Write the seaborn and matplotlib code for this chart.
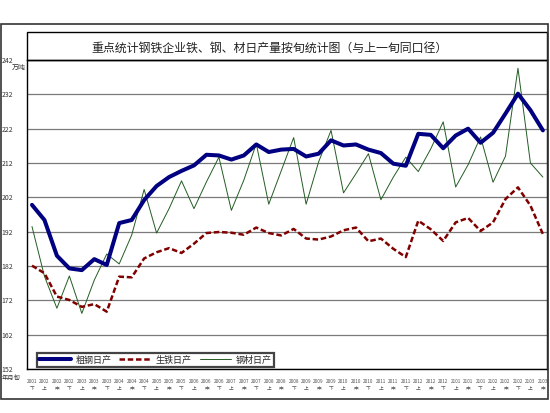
import numpy as np
import pandas as pd
import matplotlib
matplotlib.use("Agg")
import matplotlib.pyplot as plt
import seaborn as sns
from matplotlib.patches import Rectangle

sns.set_style("white")
plt.rcParams['font.family'] = ['Noto Sans CJK SC', 'DejaVu Sans']

# x axis labels: year-month code and ten-day period
periods = ['2001', '2002', '2002', '2002', '2003', '2003', '2003', '2004', '2004', '2004',
           '2005', '2005', '2005', '2006', '2006', '2006', '2007', '2007', '2007', '2008',
           '2008', '2008', '2009', '2009', '2009', '2010', '2010', '2010', '2011', '2011',
           '2011', '2012', '2012', '2012', '2101', '2101', '2101', '2102', '2102', '2102',
           '2103', '2103']
xun = ['下', '上', '中', '下', '上', '中', '下', '上', '中', '下',
       '上', '中', '下', '上', '中', '下', '上', '中', '下', '上',
       '中', '下', '上', '中', '下', '上', '中', '下', '上', '中',
       '下', '上', '中', '下', '上', '中', '下', '上', '中', '下',
       '上', '中']

# daily output, 10k tonnes
crude_steel = [199.8, 195.4, 185.0, 181.3, 180.8, 184.0, 182.3, 194.5, 195.4, 201.2,
               205.3, 207.9, 209.7, 211.3, 214.4, 214.2, 213.0, 214.2, 217.4, 215.2,
               215.9, 216.1, 213.9, 214.7, 218.6, 217.1, 217.4, 215.9, 214.9, 211.8,
               211.2, 220.5, 220.2, 216.3, 220.0, 222.0, 217.9, 220.8, 226.4, 232.2,
               227.4, 221.5]
pig_iron = [182.1, 179.9, 173.1, 172.1, 170.1, 170.9, 168.7, 178.9, 178.7, 184.2,
            186.0, 187.2, 185.8, 188.5, 191.6, 191.9, 191.7, 191.1, 193.2, 191.6,
            190.9, 192.8, 190.0, 189.7, 190.6, 192.4, 193.2, 189.2, 190.0, 187.0,
            184.6, 195.2, 192.7, 189.3, 194.7, 196.0, 192.2, 194.7, 201.5, 204.9,
            199.6, 191.3]
steel_products = [193.5, 179.0, 169.7, 179.1, 168.2, 177.9, 185.5, 182.6, 191.0, 204.3,
                  191.6, 198.7, 206.8, 198.7, 206.5, 213.7, 198.2, 207.0, 217.6, 200.0,
                  209.7, 219.4, 200.0, 212.3, 221.5, 203.3, 208.9, 214.7, 201.3, 207.9,
                  213.7, 209.5, 216.1, 224.0, 205.0, 211.5, 219.6, 206.4, 214.0, 239.6,
                  212.0, 207.9]

df = pd.DataFrame({'idx': np.arange(len(periods)),
                   '粗钢日产': crude_steel,
                   '生铁日产': pig_iron,
                   '钢材日产': steel_products})

W, H = 550, 413
fig = plt.figure(figsize=(5.5, 4.13), dpi=100)
ax = fig.add_axes([27 / W, 44 / H, 520 / W, 309 / H])

sns.lineplot(data=df, x='idx', y='钢材日产', color='#235c23', lw=0.7, ax=ax)
sns.lineplot(data=df, x='idx', y='生铁日产', color='#800000', lw=1.8,
             linestyle=(0, (2.2, 1.1)), ax=ax)
sns.lineplot(data=df, x='idx', y='粗钢日产', color='#000080', lw=2.9, ax=ax)

ax.set_xlim(-0.4, 41.33)
ax.set_ylim(152, 242)
ax.set_yticks(np.arange(152, 243, 10))
ax.yaxis.grid(True, color='#7a7a7a', lw=0.9)
ax.set_axisbelow(True)
ax.set_xlabel('')
ax.set_ylabel('')
ax.set_xticks(df['idx'])
ax.set_xticklabels([f"{p}\n{x}" for p, x in zip(periods, xun)],
                   fontsize=3.4, color='#555555', linespacing=1.45)
ax.tick_params(axis='x', direction='in', length=2.5, width=0.6, pad=7, color='black')
ax.tick_params(axis='y', length=0, pad=10, labelsize=5, labelcolor='#333333')
for s in ax.spines.values():
    s.set_color('black')
    s.set_linewidth(1.0)

lines = ax.get_lines()
handles = [lines[2], lines[1], lines[0]]
leg = ax.legend(handles, ['粗钢日产', '生铁日产', '钢材日产'], ncol=3, loc='center',
                bbox_to_anchor=(0.247, 0.029), fontsize=6.5, frameon=True,
                fancybox=False, edgecolor='#444444', framealpha=1,
                handlelength=3.5, handletextpad=0.5, columnspacing=0.9,
                borderpad=0.25)
leg.get_frame().set_linewidth(1.6)

# title box above plot area and outer frame
fig.patches.append(Rectangle((27 / W, 1 - 60 / H), 520 / W, 28 / H, transform=fig.transFigure,
                             fill=False, edgecolor='black', lw=1.0))
fig.patches.append(Rectangle((0.5 / W, 14 / H), 547.5 / W, 375 / H, transform=fig.transFigure,
                             fill=False, edgecolor='#333333', lw=1.2))
fig.text(270 / W, 1 - 48 / H, '重点统计钢铁企业铁、钢、材日产量按旬统计图（与上一旬同口径）',
         ha='center', va='center', fontsize=8.6, color='#222222')
fig.text(26 / W, 1 - 68 / H, '万吨', ha='right', va='center', fontsize=5, color='#333333')
fig.text(2 / W, 1 - 378 / H, '年月旬', ha='left', va='center', fontsize=4.5, color='#333333')

fig.savefig('out.png', dpi=100)
